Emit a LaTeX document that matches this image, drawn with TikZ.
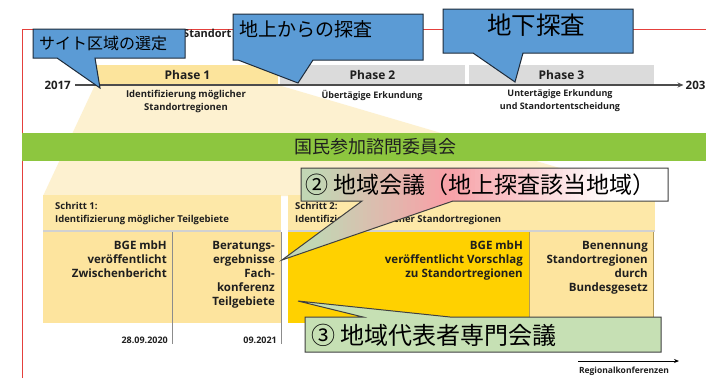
\documentclass[tikz,border=0pt]{standalone}
\usepackage{fontspec}
\setmainfont{Open Sans}
\newfontfamily\jpfont{Noto Sans CJK JP}
\usetikzlibrary{arrows.meta,shadows}

\definecolor{framered}{HTML}{E4403C}
\definecolor{phaseY}{HTML}{FCE49C}
\definecolor{phaseG}{HTML}{DBDBDB}
\definecolor{fanY}{HTML}{FDF1D0}
\definecolor{bandG}{HTML}{8DC63F}
\definecolor{hdrY}{HTML}{FDE8A8}
\definecolor{cellL}{HTML}{FDE49E}
\definecolor{cellD}{HTML}{FFD100}
\definecolor{callB}{HTML}{5B9BD5}
\definecolor{callBd}{HTML}{1E2B3A}
\definecolor{callG}{HTML}{C6E0B4}
\definecolor{gradL}{HTML}{C2D6B4}
\definecolor{gradM}{HTML}{F7A2A8}
\definecolor{txt}{HTML}{1F1F1F}
\definecolor{divgrey}{HTML}{8C8C8C}
\definecolor{divtan}{HTML}{B59B55}

\newcommand\fsPhase{\bfseries\fontsize{12}{14}\selectfont}
\newcommand\fsYear{\bfseries\fontsize{11.5}{13}\selectfont}
\newcommand\fsSub{\bfseries\fontsize{9}{12.5}\selectfont}
\newcommand\fsSubA{\bfseries\fontsize{9.5}{12.5}\selectfont}
\newcommand\fsHdr{\bfseries\fontsize{9.5}{13}\selectfont}
\newcommand\fsCell{\bfseries\fontsize{11.5}{14}\selectfont}
\newcommand\fsDate{\bfseries\fontsize{9}{11}\selectfont}
\newcommand\fsRk{\bfseries\fontsize{8.5}{10}\selectfont}

\tikzset{
  phasebox/.style={minimum height=19pt, inner sep=0pt, font=\fsPhase, text=txt},
  subtext/.style={font=\fsSub, text=txt, align=center, inner sep=0pt},
  yeartext/.style={font=\fsYear, text=txt, inner sep=0pt},
  timeline/.style={draw=black!70, line width=1.2pt, -{Stealth[length=6pt,width=5pt]}},
  bandbox/.style={fill=bandG, minimum width=684pt, minimum height=28pt, inner sep=0pt},
  hdrbox/.style={fill=hdrY, minimum height=35pt, inner sep=0pt,
     drop shadow={shadow xshift=0pt, shadow yshift=-2pt, opacity=0.18, fill=black}},
  hdrtext/.style={font=\fsHdr, text=txt, align=left, inner sep=0pt, anchor=north west},
  cellbox/.style={minimum height=91pt, inner sep=0pt},
  celltext/.style={font=\fsCell, text=txt, align=right, inner sep=0pt, anchor=north east},
  datetext/.style={font=\fsDate, text=txt, inner sep=0pt, anchor=east},
  divider/.style={draw=divgrey, line width=1.3pt},
  divider2/.style={draw=divtan, line width=0.8pt},
  rkarrow/.style={draw=black, line width=1pt, -{Stealth[length=5pt,width=4pt]}},
  bluecall/.style={fill=callB, draw=callBd, line width=1pt, line join=miter},
  greencall/.style={fill=callG, draw=black!75, line width=1pt, line join=miter},
  calloutline/.style={draw=black!75, line width=1pt, line join=miter},
  jptext/.style={text=black, inner sep=0pt, anchor=west},
}

\begin{document}
\begin{tikzpicture}[x=1pt,y=-1pt]
\useasboundingbox (0,0) rectangle (706,378);
\fill[white] (0,0) rectangle (706,378);

% red frame
\draw[framered, line width=1pt] (22,378) -- (22,29) -- (706,29);

% title fragment
\node[font=\bfseries\fontsize{11}{12}\selectfont, text=txt, anchor=west, inner sep=0pt] (stand) at (183,33.5) {Standort};

% fan
\fill[fanY] (95,85) -- (278,85) -- (655,196) -- (43,196) -- cycle;

% phases
\node[phasebox, fill=phaseY, minimum width=181pt] (p1) at (187.5,74.5) {Phase 1};
\node[phasebox, fill=phaseG, minimum width=185pt] (p2) at (372.5,74.5) {Phase 2};
\node[phasebox, fill=phaseG, minimum width=185pt] (p3) at (561.5,74.5) {Phase 3};

% timeline
\node[yeartext, anchor=east] (y2017) at (71,85) {2017};
\node[yeartext, anchor=west] (y203) at (685.5,85) {203};
\draw[timeline, shorten <=4pt, shorten >=2pt] (y2017.east) -- (y203.west);

% phase subtitles
\node[subtext, font=\fsSubA] (s1) at (186,101.5) {Identifizierung möglicher\\Standortregionen};
\node[subtext] (s2) at (372,95) {Übertägige Erkundung};
\node[subtext] (s3) at (560,100.5) {Untertägige Erkundung\\und Standortentscheidung};

% green band
\node[bandbox] (band) at (364,147) {};
\node[font=\jpfont\fontsize{18}{20}\selectfont, text=txt, inner sep=0pt] (bandt) at (375.5,147) {国民参加諮問委員会};

% step headers
\node[hdrbox, minimum width=238pt] (h1) at (162,212.5) {};
\node[hdrbox, minimum width=367pt] (h2) at (471.5,212.5) {};
\node[hdrtext] (h1t) at (55,202.5) {Schritt 1:\\Identifizierung möglicher Teilgebiete};
\node[hdrtext] (h2t) at (295,202.5) {Schritt 2:\\Identifizierung möglicher Standortregionen};

% cells
\node[cellbox, fill=cellL, minimum width=129pt] (c11) at (107.5,277.5) {};
\node[cellbox, fill=cellL, minimum width=109pt] (c12) at (226.5,277.5) {};
\node[cellbox, fill=cellD, minimum width=241pt] (c21) at (408.5,277.5) {};
\node[cellbox, fill=cellL, minimum width=124pt] (c22) at (591,277.5) {};

\draw[divider] (c11.north east) -- ++(0,112);
\draw[divider] (c12.north east) -- ++(0,112);
\draw[divider2] (c21.north east) -- (c21.south east);
\draw[divider2] (c22.north east) -- (c22.south east);

\node[celltext] (t11) at (167,241) {BGE mbH\\veröffentlicht\\Zwischenbericht};
\node[celltext] (t12) at (275,241) {Beratungs-\\ergebnisse\\Fach-\\konferenz\\Teilgebiete};
\node[celltext] (t21) at (523,241) {BGE mbH\\veröffentlicht Vorschlag\\zu Standortregionen};
\node[celltext] (t22) at (648,241) {Benennung\\Standortregionen\\durch\\Bundesgesetz};

\node[datetext] (d1) at (168,340) {28.09.2020};
\node[datetext] (d2) at (277,340) {09.2021};

% Regionalkonferenzen
\coordinate (rkA) at (578,361);
\coordinate (rkB) at (679,361);
\draw[rkarrow] (rkA) -- (rkB);
\node[font=\fsRk, text=txt, inner sep=0pt] (rk) at (624,371) {Regionalkonferenzen};

% callout 2 (gradient, drawn as thin strips clipped to the shape)
\begin{scope}
  \clip (301,168) -- (668,168) -- (668,201) -- (453,201) -- (282,260) -- (362,201) -- (301,201) -- cycle;
  \foreach \i in {0,...,97}{
    \pgfmathsetmacro\xx{280+4*\i}
    \pgfmathtruncatemacro\pa{max(0,min(100,(\xx-315)/125*100))}
    \pgfmathtruncatemacro\pb{max(0,min(100,(\xx-450)/160*100))}
    \fill[white!\pb!gradM!\pa!gradL] (\xx-0.6,160) rectangle (\xx+4.6,265);
  }
\end{scope}
\path[calloutline] (301,168) -- (668,168) -- (668,201) -- (453,201) -- (282,260) -- (362,201) -- (301,201) -- cycle;
\node[jptext, font=\jpfont\fontsize{23}{25}\selectfont] (cg2) at (305,185) {② 地域会議（地上探査該当地域）};

% callout 3 (green)
\path[greencall] (305,317) -- (363,317) -- (298,301) -- (450,317) -- (661,317) -- (661,352) -- (305,352) -- cycle;
\node[jptext, font=\jpfont\fontsize{24}{26}\selectfont] (cg3) at (311,335) {③ 地域代表者専門会議};

% blue callouts
\path[bluecall] (33,29) -- (185,29) -- (185,58) -- (95,58) -- (100,88) -- (57,58) -- (33,58) -- cycle;
\node[jptext, font=\jpfont\fontsize{16}{18}\selectfont] (cb1) at (39,43.5) {サイト区域の選定};

\path[bluecall] (233,14) -- (423,14) -- (423,60) -- (313,60) -- (298,83) -- (238,60) -- (233,60) -- cycle;
\node[jptext, font=\jpfont\fontsize{19}{21}\selectfont] (cb2) at (239,29) {地上からの探査};

\path[bluecall] (443,9) -- (633,9) -- (633,53) -- (523,53) -- (515,82) -- (473,53) -- (443,53) -- cycle;
\node[font=\jpfont\fontsize{24.5}{26}\selectfont, text=black, inner sep=0pt] (cb3) at (536,25) {地下探査};

\end{tikzpicture}
\end{document}
